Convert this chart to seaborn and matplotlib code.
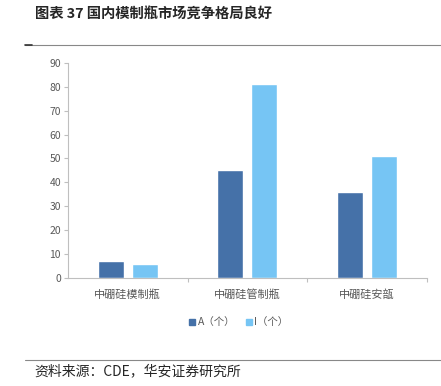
import numpy as np
import pandas as pd
import seaborn as sns
import matplotlib.pyplot as plt
from matplotlib.lines import Line2D

# -------données--------------
categories = ["中硼硅模制瓶", "中硼硅管制瓶", "中硼硅安瓿"]
series_a = [7, 45, 36]   # A（个）
series_i = [6, 81, 51]   # I（个）
series_names = ["A（个）", "I（个）"]
y_ticks = [0, 10, 20, 30, 40, 50, 60, 70, 80, 90]
colors = ["#4571A8", "#76C5F4"]
# ----------------------------

sns.set_style("white")
plt.rcParams['font.family'] = ['Noto Sans CJK SC', 'DejaVu Sans']

tableau = pd.DataFrame({
    "cat": categories * 2,
    "val": series_a + series_i,
    "serie": [series_names[0]] * 3 + [series_names[1]] * 3,
})

fig = plt.figure(figsize=(4.41, 3.86), dpi=100)
ax = fig.add_axes([0.154, 0.280, 0.814, 0.557])

sns.barplot(data=tableau, x="cat", y="val", hue="serie", palette=colors,
            width=0.567, gap=0.235, ax=ax, legend=False, saturation=1)

ax.set_ylim(0, 90)
ax.set_yticks(y_ticks)
ax.set_xlim(-0.5, 2.5)
ax.set_xlabel("")
ax.set_ylabel("")

grey = "#bfbfbf"
for s in ["top", "right"]:
    ax.spines[s].set_visible(False)
ax.spines["left"].set_color(grey)
ax.spines["bottom"].set_color(grey)
ax.tick_params(axis="y", colors="#595959", labelsize=7.5, length=3, width=0.8,
               direction="out", left=True, color=grey, pad=2)
ax.tick_params(axis="y", labelcolor="#595959")
ax.set_xticks([0, 1, 2])
ax.set_xticklabels(categories, fontsize=8, color="#595959")
ax.tick_params(axis="x", length=0, pad=8)
# petites graduations aux frontières des catégories
ax.set_xticks([0.5, 1.5, 2.5], minor=True)
ax.tick_params(axis="x", which="minor", length=3, color=grey, width=0.8, bottom=True)

handles = [Line2D([], [], marker="s", linestyle="", markersize=5,
                  markerfacecolor=c, markeredgecolor=c) for c in colors]
fig.legend(handles, series_names, loc="center", bbox_to_anchor=(0.54, 0.165),
           ncol=2, frameon=False, fontsize=7.5, handletextpad=0.1,
           columnspacing=0.9, labelcolor="#595959", handlelength=0.8)

# titre et source
fig.text(0.079, 0.963, "图表 37 国内模制瓶市场竞争格局良好", fontsize=10.3,
         fontweight="bold", va="center", ha="left")
fig.add_artist(Line2D([0.057, 1.0], [0.883, 0.883], color="#888888", lw=0.8))
fig.add_artist(Line2D([0.057, 0.073], [0.883, 0.883], color="#333333", lw=1.2))
fig.add_artist(Line2D([0.057, 1.0], [0.067, 0.067], color="#888888", lw=0.8))
fig.text(0.079, 0.039, "资料来源：CDE，华安证券研究所", fontsize=10,
         va="center", ha="left")

plt.savefig("out.png", dpi=100)
